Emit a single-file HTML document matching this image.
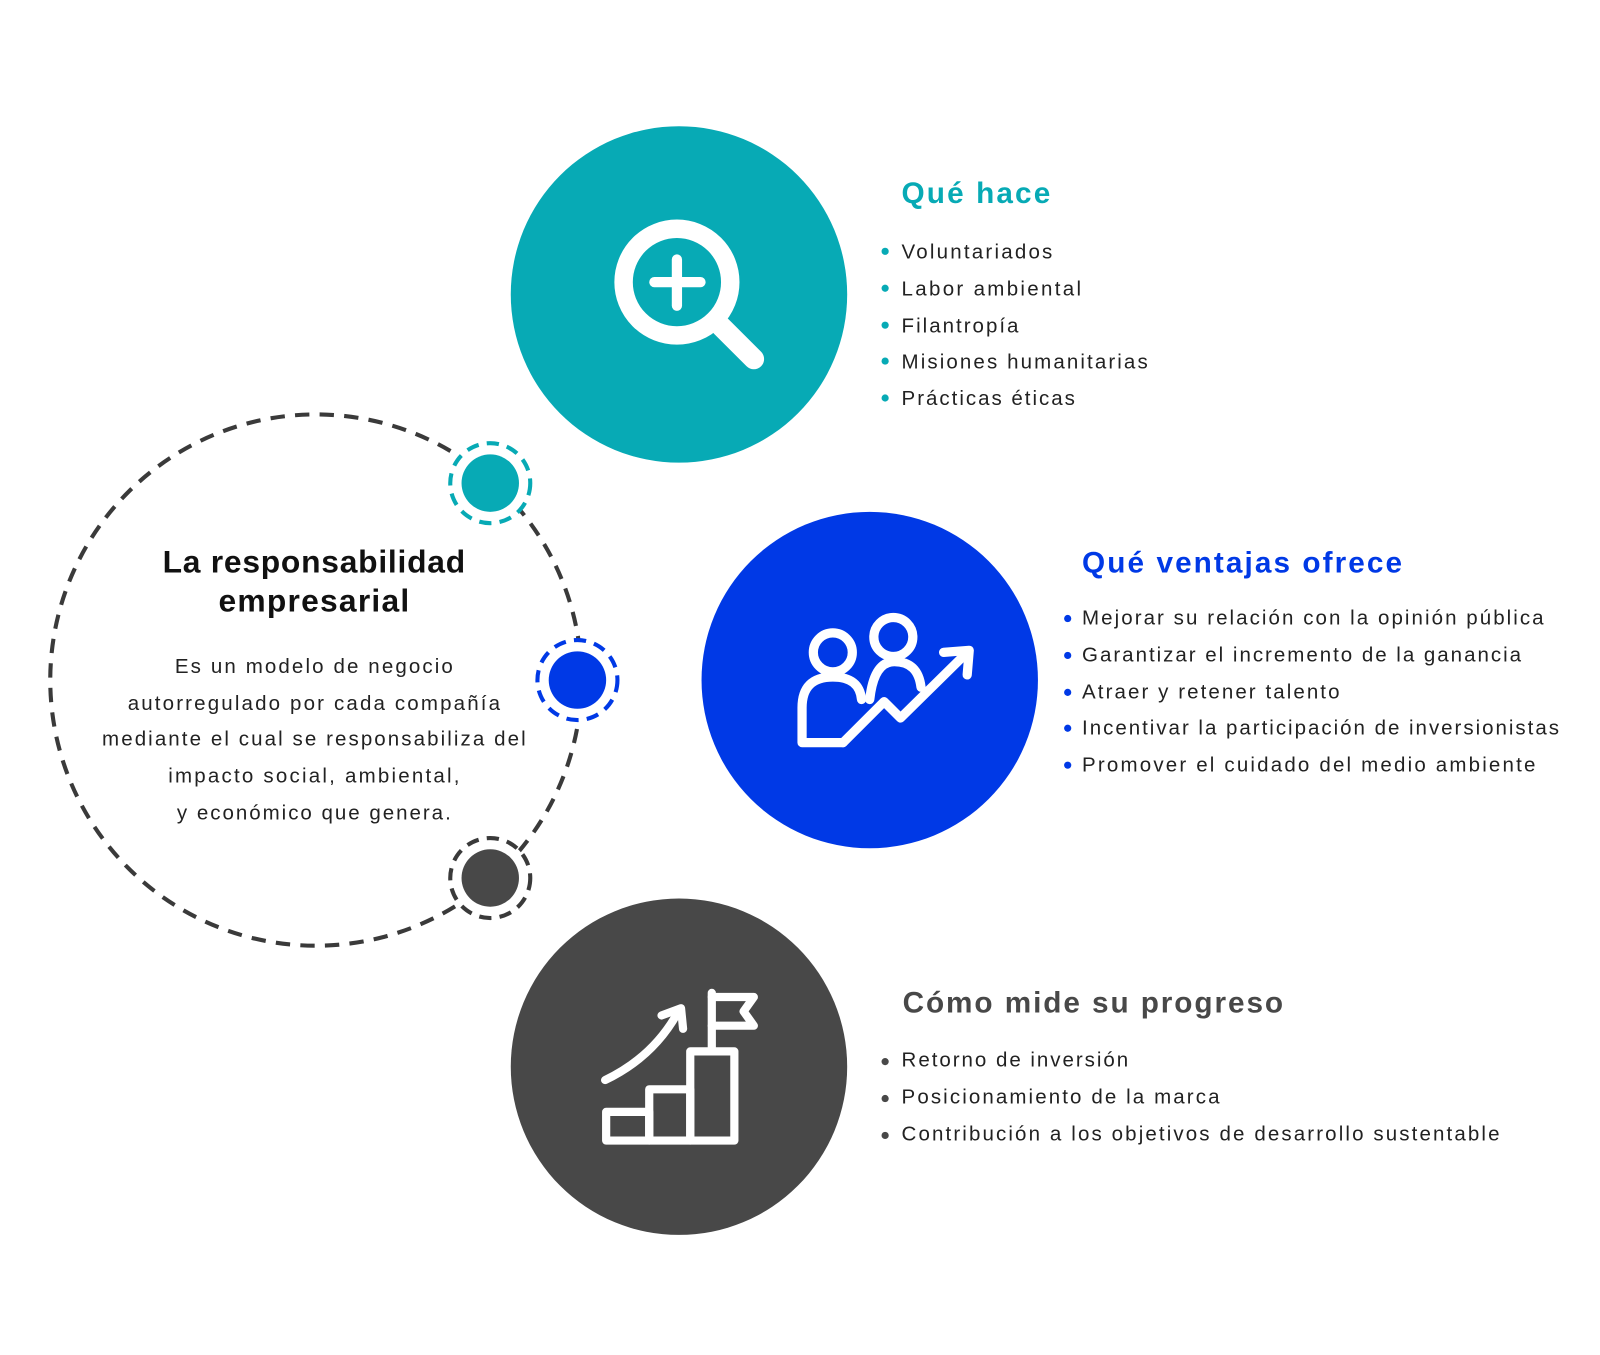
<!DOCTYPE html>
<html><head><meta charset="utf-8"><style>
html,body{margin:0;padding:0;background:#fff;}
svg{display:block;}
text{font-family:"Liberation Sans",sans-serif;}
</style></head><body>
<svg width="1600" height="1355" viewBox="0 0 1560 1321" xmlns="http://www.w3.org/2000/svg">
<rect width="1560" height="1321" fill="#fff"/>
<circle cx="308" cy="663" r="259" fill="none" stroke="#3a3a3a" stroke-width="4" stroke-dasharray="14 10"/>
<circle cx="478" cy="471" r="39" fill="#fff" stroke="#07aab5" stroke-width="4" stroke-dasharray="12 8"/>
<circle cx="478" cy="471" r="28" fill="#07aab5"/>
<circle cx="563" cy="663" r="39" fill="#fff" stroke="#0039e6" stroke-width="4" stroke-dasharray="12 8"/>
<circle cx="563" cy="663" r="28" fill="#0039e6"/>
<circle cx="478" cy="856" r="39" fill="#fff" stroke="#3a3a3a" stroke-width="4" stroke-dasharray="12 8"/>
<circle cx="478" cy="856" r="28" fill="#484848"/>
<circle cx="662" cy="287" r="164" fill="#07aab5"/>
<circle cx="848" cy="663" r="164" fill="#0039e6"/>
<circle cx="662" cy="1040" r="164" fill="#484848"/>
<g stroke="#fff" fill="none" stroke-linecap="round">
<circle cx="660" cy="275" r="52" stroke-width="18"/>
<line x1="638" y1="275" x2="683" y2="275" stroke-width="10"/>
<line x1="660" y1="253" x2="660" y2="298" stroke-width="10"/>
<line x1="703" y1="318" x2="735" y2="350" stroke-width="20"/>
</g>
<g stroke="#fff" fill="none" stroke-width="9" stroke-linejoin="round" stroke-linecap="round">
<circle cx="812" cy="636" r="19"/>
<circle cx="871" cy="621" r="19"/>
<path d="M822,724 L782,724 L782,690 Q782,660 812,660 Q838,660 840,682"/>
<path d="M848,682 Q852,645 872,645 Q895,645 898,670"/>
<path d="M822,724 L862,684 L878,700 L943,636"/>
<path d="M920,636 L945,634 L943,658"/>
</g>
<g stroke="#fff" fill="none" stroke-width="8" stroke-linejoin="round" stroke-linecap="round">
<rect x="591" y="1084" width="42" height="28"/>
<rect x="633" y="1062" width="40" height="50"/>
<rect x="673" y="1025" width="43" height="87"/>
<line x1="694" y1="1025" x2="694" y2="968"/>
<path d="M694,972 L735,972 L725,986 L735,1000 L694,1000"/>
<path d="M590,1053 Q638,1030 662,985"/>
<path d="M645,990 L664,983 L666,1003"/>
</g>
<text x="306" y="558" font-size="31" font-weight="bold" fill="#111" text-anchor="middle" textLength="295" lengthAdjust="spacing">La responsabilidad</text>
<text x="306" y="596" font-size="31" font-weight="bold" fill="#111" text-anchor="middle" textLength="186" lengthAdjust="spacing">empresarial</text>
<g font-size="20" fill="#222" text-anchor="middle">
<text x="306" y="656" textLength="271" lengthAdjust="spacing">Es un modelo de negocio</text>
<text x="306" y="692" textLength="363" lengthAdjust="spacing">autorregulado por cada compañía</text>
<text x="306" y="727" textLength="413" lengthAdjust="spacing">mediante el cual se responsabiliza del</text>
<text x="306" y="763" textLength="284" lengthAdjust="spacing">impacto social, ambiental,</text>
<text x="306" y="799" textLength="267" lengthAdjust="spacing">y económico que genera.</text>
</g>
<text x="879" y="198" font-size="29" font-weight="bold" fill="#07aab5" textLength="145" lengthAdjust="spacing">Qué hace</text>
<g font-size="20" fill="#222">
<text x="879" y="252" textLength="147" lengthAdjust="spacing">Voluntariados</text>
<text x="879" y="288" textLength="175" lengthAdjust="spacing">Labor ambiental</text>
<text x="879" y="324" textLength="114" lengthAdjust="spacing">Filantropía</text>
<text x="879" y="359" textLength="240" lengthAdjust="spacing">Misiones humanitarias</text>
<text x="879" y="395" textLength="169" lengthAdjust="spacing">Prácticas éticas</text>
</g>
<g fill="#07aab5"><circle cx="863" cy="245" r="3.5"/><circle cx="863" cy="281" r="3.5"/><circle cx="863" cy="317" r="3.5"/><circle cx="863" cy="352" r="3.5"/><circle cx="863" cy="388" r="3.5"/></g>
<text x="1055" y="558" font-size="29" font-weight="bold" fill="#0039e6" textLength="312" lengthAdjust="spacing">Qué ventajas ofrece</text>
<g font-size="20" fill="#222">
<text x="1055" y="609" textLength="450" lengthAdjust="spacing">Mejorar su relación con la opinión pública</text>
<text x="1055" y="645" textLength="428" lengthAdjust="spacing">Garantizar el incremento de la ganancia</text>
<text x="1055" y="681" textLength="251" lengthAdjust="spacing">Atraer y retener talento</text>
<text x="1055" y="716" textLength="465" lengthAdjust="spacing">Incentivar la participación de inversionistas</text>
<text x="1055" y="752" textLength="442" lengthAdjust="spacing">Promover el cuidado del medio ambiente</text>
</g>
<g fill="#0039e6"><circle cx="1041" cy="603" r="3.5"/><circle cx="1041" cy="639" r="3.5"/><circle cx="1041" cy="675" r="3.5"/><circle cx="1041" cy="710" r="3.5"/><circle cx="1041" cy="746" r="3.5"/></g>
<text x="880" y="987" font-size="29" font-weight="bold" fill="#484848" textLength="371" lengthAdjust="spacing">Cómo mide su progreso</text>
<g font-size="20" fill="#222">
<text x="879" y="1040" textLength="221" lengthAdjust="spacing">Retorno de inversión</text>
<text x="879" y="1076" textLength="310" lengthAdjust="spacing">Posicionamiento de la marca</text>
<text x="879" y="1112" textLength="583" lengthAdjust="spacing">Contribución a los objetivos de desarrollo sustentable</text>
</g>
<g fill="#484848"><circle cx="863" cy="1035" r="3.5"/><circle cx="863" cy="1071" r="3.5"/><circle cx="863" cy="1107" r="3.5"/></g>
</svg>
</body></html>
